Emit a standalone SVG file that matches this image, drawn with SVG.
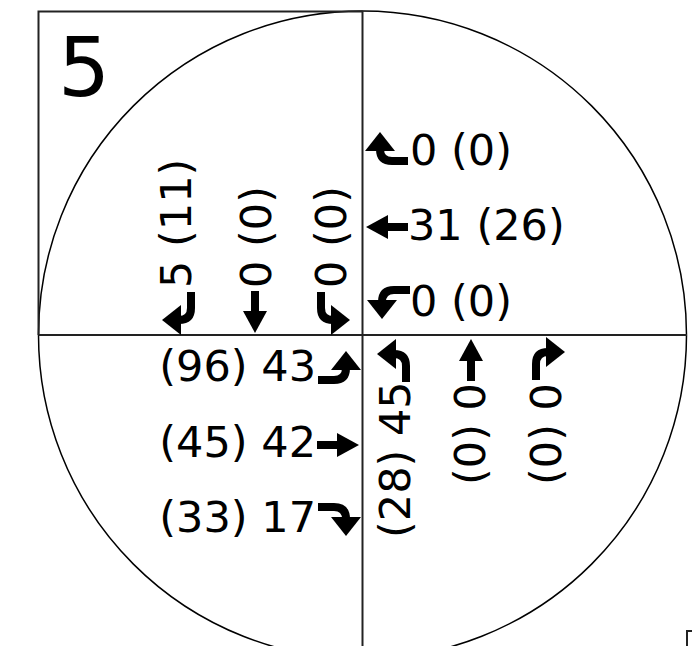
<svg xmlns="http://www.w3.org/2000/svg" width="692" height="646" viewBox="0 0 692 646">
<style>
.ln{stroke:#222;stroke-width:2;fill:none}
.cir{stroke:#000;stroke-width:1.5;fill:none}
.t{font-family:"DejaVu Sans",Verdana,sans-serif;font-size:43px;fill:#000}
.big{font-family:"DejaVu Sans",Verdana,sans-serif;font-size:82px;fill:#000}
.stem{stroke:#000;stroke-width:8;fill:none}
.head{fill:#000}
</style>
<defs>
<g id="straight"><path class="stem" d="M0,0 H22"/><polygon class="head" points="20,-12 20,12 42,0"/></g>
<g id="rturn"><path class="stem" d="M0,0 V-16 Q0,-28 12,-28"/><polygon class="head" points="10,-43 10,-13 29,-28"/></g>
<g id="lturn"><path class="stem" d="M0,0 V-16 Q0,-28 -12,-28"/><polygon class="head" points="-10,-43 -10,-13 -29,-28"/></g>
</defs>
<g id="frame">
<rect x="0" y="0" width="692" height="646" fill="#fff"/>
<circle class="cir" cx="362.5" cy="335" r="324"/>
<path class="ln" d="M38.5,335 V11.5 H362.5"/>
<path class="ln" d="M38.5,335 H687"/>
<path class="ln" d="M362.5,11 V646"/>
<path class="ln" d="M687,646 V631 H692" stroke-width="1.5"/>
<text class="big" x="58" y="96">5</text>
</g>
<g id="north-approach">
<text class="t" transform="translate(191,288) rotate(-90)">5 (11)</text>
<text class="t" transform="translate(271,288) rotate(-90)">0 (0)</text>
<text class="t" transform="translate(346,288) rotate(-90)">0 (0)</text>
</g>
<g id="east-approach">
<text class="t" x="410" y="165">0 (0)</text>
<text class="t" x="408" y="240">31 (26)</text>
<text class="t" x="410" y="316">0 (0)</text>
</g>
<g id="west-approach">
<text class="t" x="316" y="381" text-anchor="end">(96) 43</text>
<text class="t" x="316" y="457" text-anchor="end">(45) 42</text>
<text class="t" x="316" y="532" text-anchor="end">(33) 17</text>
</g>
<g id="south-approach">
<text class="t" transform="translate(410,538) rotate(-90)">(28) 45</text>
<text class="t" transform="translate(485,485) rotate(-90)">(0) 0</text>
<text class="t" transform="translate(561,485) rotate(-90)">(0) 0</text>
</g>
<g id="connectors">
<use href="#rturn" transform="translate(191,292) rotate(180)"/>
<use href="#straight" transform="translate(255,291) rotate(90)"/>
<use href="#lturn" transform="translate(321,292) rotate(180)"/>
<use href="#rturn" transform="translate(408,161) rotate(-90)"/>
<use href="#straight" transform="translate(408,227) rotate(180)"/>
<use href="#lturn" transform="translate(410,290) rotate(-90)"/>
<use href="#lturn" transform="translate(318,380) rotate(90)"/>
<use href="#straight" transform="translate(317,445)"/>
<use href="#rturn" transform="translate(318,507) rotate(90)"/>
<use href="#lturn" transform="translate(406,382)"/>
<use href="#straight" transform="translate(471,381) rotate(-90)"/>
<use href="#rturn" transform="translate(536,380)"/>
</g>
</svg>
